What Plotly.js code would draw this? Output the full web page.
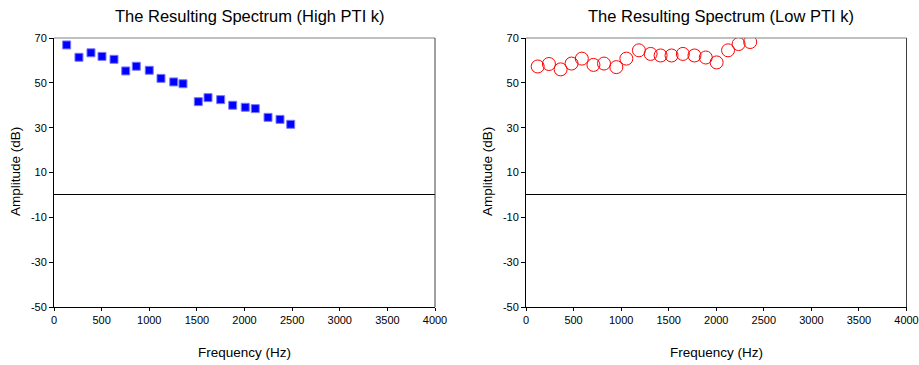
<!DOCTYPE html>
<html>
<head>
<meta charset="utf-8">
<script src="https://cdn.plot.ly/plotly-3.0.1.min.js"></script>
<style>html,body{margin:0;padding:0;background:#fff;}#chart{width:919px;height:365px;}</style>
</head>
<body>
<div id="chart"></div>
<script>
// High PTI k spectrum
const highFreq = [133, 262, 388, 504, 630, 753, 864, 1000, 1123, 1257, 1354, 1515, 1617, 1750, 1876, 2008, 2113, 2247, 2373, 2485];
const highAmp  = [66.9, 61.4, 63.4, 61.8, 60.5, 55.3, 57.4, 55.6, 52.0, 50.4, 49.6, 41.6, 43.4, 42.5, 40.0, 39.1, 38.5, 34.6, 33.7, 31.5];
// Low PTI k spectrum
const lowFreq = [123, 241, 364, 479, 587, 709, 820, 950, 1055, 1187, 1310, 1415, 1530, 1649, 1771, 1890, 2004, 2124, 2235, 2357];
const lowAmp  = [57.3, 58.4, 56.0, 58.6, 60.8, 58.0, 58.6, 57.0, 60.8, 64.5, 62.9, 62.2, 62.2, 62.9, 62.2, 61.3, 59.1, 64.5, 67.3, 68.2];
const yTicks = [-50, -30, -10, 10, 30, 50, 70];
const xTicks = [0, 500, 1000, 1500, 2000, 2500, 3000, 3500, 4000];
const titles = ['The Resulting Spectrum (High PTI k)', 'The Resulting Spectrum (Low PTI k)'];
const xTitle = 'Frequency (Hz)';
const yTitle = 'Amplitude (dB)';

const W = 919, H = 365;
const dom1 = [54 / W, 435 / W];
const dom2 = [526 / W, 906.5 / W];
const yDom = [1 - 307 / H, 1 - 38 / H];
const font = 'Liberation Sans, Arial, sans-serif';

const traces = [
  {x: highFreq, y: highAmp, type: 'scatter', mode: 'markers', xaxis: 'x', yaxis: 'y',
   marker: {symbol: 'square', size: 8, color: '#0000ff', line: {color: '#7a7aff', width: 1}}},
  {x: lowFreq, y: lowAmp, type: 'scatter', mode: 'markers', xaxis: 'x2', yaxis: 'y2',
   marker: {symbol: 'circle-open', size: 13, color: '#ff0000', line: {color: '#ff0000', width: 1}}}
];

function xa(domain, anchor) {
  return {domain: domain, anchor: anchor, range: [0, 4000], tickvals: xTicks, ticktext: xTicks.map(String),
    showgrid: false, zeroline: false, showline: true, linecolor: '#000', linewidth: 1,
    ticks: 'outside', ticklen: 3, tickcolor: '#000', automargin: false, ticklabeloverflow: 'allow',
    tickfont: {family: font, size: 11, color: '#000'}, fixedrange: true};
}
function ya(anchor) {
  return {domain: yDom, anchor: anchor, range: [-50, 70], tickvals: yTicks, ticktext: yTicks.map(String),
    showgrid: false, zeroline: true, zerolinecolor: '#000', zerolinewidth: 1,
    showline: true, linecolor: '#000', linewidth: 1,
    ticks: 'outside', ticklen: 4, tickcolor: '#000', automargin: false, ticklabeloverflow: 'allow',
    tickfont: {family: font, size: 11, color: '#000'}, fixedrange: true};
}

const annotations = [];
[[dom1, 0], [dom2, 1]].forEach(([d, i]) => {
  const cx = (d[0] + d[1]) / 2;
  annotations.push({text: titles[i], xref: 'paper', yref: 'paper', x: cx + 5 / W, y: 1 - 16 / H,
    xanchor: 'center', yanchor: 'middle', showarrow: false, font: {family: font, size: 16.5, color: '#000'}});
  annotations.push({text: xTitle, xref: 'paper', yref: 'paper', x: cx, y: 1 - 352 / H,
    xanchor: 'center', yanchor: 'middle', showarrow: false, font: {family: font, size: 13.5, color: '#000'}});
  annotations.push({text: yTitle, xref: 'paper', yref: 'paper', x: (d[0] * W - 39) / W, y: 1 - 172 / H,
    xanchor: 'center', yanchor: 'middle', textangle: -90, showarrow: false, font: {family: font, size: 13.5, color: '#000'}});
});

const shapes = [];
[['x', 'y'], ['x2', 'y2']].forEach(([xr, yr]) => {
  shapes.push({type: 'line', xref: xr + ' domain', yref: yr + ' domain', x0: 0, x1: 1, y0: 1, y1: 1, line: {color: '#808080', width: 1}});
  shapes.push({type: 'line', xref: xr + ' domain', yref: yr + ' domain', x0: 1, x1: 1, y0: 0, y1: 1, line: {color: '#404040', width: 1}});
});

const layout = {
  width: W, height: H, margin: {l: 0, r: 0, t: 0, b: 0},
  paper_bgcolor: '#fff', plot_bgcolor: '#fff', showlegend: false,
  font: {family: font, color: '#000'},
  xaxis: xa(dom1, 'y'), yaxis: ya('x'),
  xaxis2: xa(dom2, 'y2'), yaxis2: ya('x2'),
  annotations: annotations, shapes: shapes
};
Plotly.newPlot('chart', traces, layout, {displayModeBar: false, staticPlot: true});
</script>
</body>
</html>
